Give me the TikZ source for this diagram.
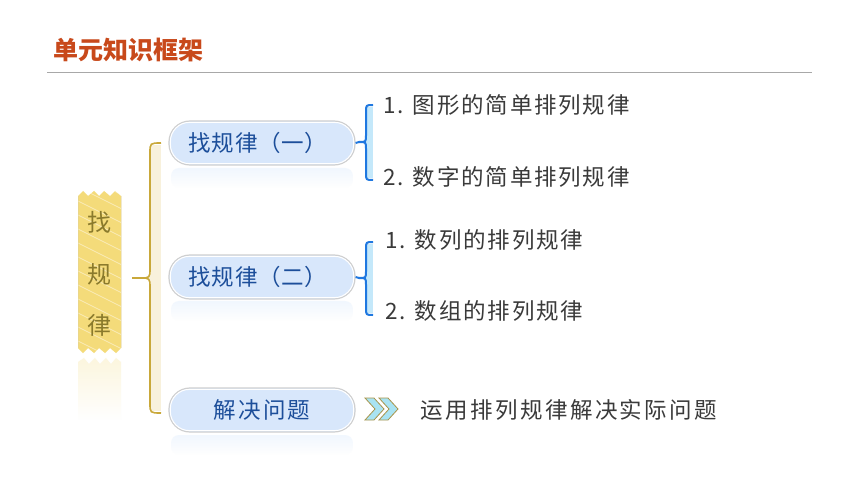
\documentclass[tikz,border=0pt]{standalone}
\usepackage{fontspec}
\newfontfamily\cjk{Noto Sans CJK SC}
\usetikzlibrary{fadings}
\definecolor{titlec}{HTML}{C8491B}
\definecolor{rulec}{HTML}{A8A8A8}
\definecolor{goldc}{HTML}{C9A83A}
\definecolor{creamc}{HTML}{F8F1DC}
\definecolor{bannerc}{HTML}{F4DB7A}
\definecolor{bannertxt}{HTML}{8A7A2C}
\definecolor{pillc}{HTML}{D8E7FB}
\definecolor{pillline}{HTML}{CFCFCF}
\definecolor{pilltxt}{HTML}{1C4E9A}
\definecolor{bluec}{HTML}{1F78E0}
\definecolor{cyanc}{HTML}{C4E8FA}
\definecolor{graytxt}{HTML}{3A3A3A}
\definecolor{chevc}{HTML}{A9E3F2}
\definecolor{chevline}{HTML}{A8944A}
\tikzset{
  pill/.style={draw=pillline, line width=1.2pt, fill=pillc, rounded corners=21pt,
    minimum width=186pt, minimum height=44pt, inner sep=0pt, text=pilltxt,
    font=\cjk\fontsize{22.5}{22.5}\selectfont},
  pillin/.style={draw=white, line width=1pt, rounded corners=19pt},
  refl/.style={fill=pillc!35, path fading=south, rounded corners=8pt},
  item/.style={anchor=west, inner sep=0pt, text=graytxt,
    font=\cjk\fontsize{22.5}{22.5}\selectfont\addfontfeature{LetterSpace=8}},
  goldline/.style={draw=goldc, line width=1.6pt},
  blueline/.style={draw=bluec, line width=2pt},
  chev/.style={fill=chevc, draw=chevline, line width=0.8pt, line join=miter}
}
\begin{document}
\begin{tikzpicture}[x=1pt,y=-1pt]
\useasboundingbox (0,0) rectangle (860,484);
\fill[white] (0,0) rectangle (860,484);

% title
\node[anchor=west, inner sep=0pt, text=titlec, font=\cjk\bfseries\fontsize{25}{25}\selectfont] (title) at (53,50) {单元知识框架};
\coordinate (rl) at (47,72);
\coordinate (rr) at (812,72);
\draw[rulec, line width=0.9pt] (rl) -- (rr);

% banner
\fill[bannerc!25, path fading=south]
  (78,362) -- (84,358) -- (89,364) -- (95,358) -- (100,364) -- (106,358) -- (111,364) -- (116,358) -- (121,362)
  -- (121,420) -- (78,420) -- cycle;
\begin{scope}
\clip (78,196) -- (83,191) -- (88,196) -- (94,191) -- (99,196) -- (104,191) -- (110,196) -- (115,191) -- (121,196)
  -- (121,348) -- (116,353) -- (110,348) -- (105,353) -- (99,348) -- (94,353) -- (88,348) -- (83,353) -- (78,348) -- cycle;
\fill[bannerc] (70,185) rectangle (130,360);
\foreach \k in {0,...,16} {
  \draw[white, opacity=0.45, line width=0.8pt] (60,150+\k*14) -- (140,190+\k*14);
}
\end{scope}
\draw[bannerc!80!black!60, line width=0.5pt, opacity=0.4] (78,196) -- (78,348) (121,196) -- (121,348);
\node[inner sep=0pt, text=bannertxt, align=center, font=\cjk\fontsize{24}{51.5}\selectfont] (banner) at (99.5,274) {找\\规\\律};

% gold brace
\fill[creamc] (150,145) rectangle (161,411);
\coordinate (gt) at (161,143);
\coordinate (gb) at (161,413);
\coordinate (gtip) at (132,278);
\draw[goldline] (gt) .. controls (150,143) .. (150,153) -- (150,268) .. controls (150,278) .. (140,278) -- (gtip);
\draw[goldline] (140,278) .. controls (150,278) .. (150,288) -- (150,403) .. controls (150,413) .. (gb);

% pills with reflections
\fill[refl] (171,168) rectangle (353,188);
\fill[refl] (171,301) rectangle (353,321);
\fill[refl] (171,435) rectangle (353,455);
\node[pill] (p1) at (262,143) {\hspace*{-8pt}\addfontfeature{LetterSpace=3}找规律（一）};
\node[pill] (p2) at (262,277) {\hspace*{-8pt}\addfontfeature{LetterSpace=3}找规律（二）};
\node[pill] (p3) at (262,410) {\addfontfeature{LetterSpace=10}解决问题};
\foreach \n in {p1,p2,p3} {
  \draw[pillin] ([shift={(2pt,-2pt)}]\n.north west) rectangle ([shift={(-2pt,2pt)}]\n.south east);
}

% blue brace 1
\fill[cyanc] (366,107) rectangle (373,178);
\draw[blueline] (373,105) .. controls (366,105) .. (366,112) -- (366,135) .. controls (366,142) .. (359,142) -- (p1.east);
\draw[blueline] (359,142) .. controls (366,142) .. (366,149) -- (366,173) .. controls (366,180) .. (373,180);
% blue brace 2
\fill[cyanc] (366,244) rectangle (373,313);
\draw[blueline] (373,242) .. controls (366,242) .. (366,249) -- (366,271) .. controls (366,278) .. (359,278) -- (p2.east);
\draw[blueline] (359,278) .. controls (366,278) .. (366,285) -- (366,308) .. controls (366,315) .. (373,315);

% items
\node[item] (a1) at (383,105) {1. 图形的简单排列规律};
\node[item] (a2) at (383,177) {2. 数字的简单排列规律};
\node[item] (b1) at (385,240) {1. 数列的排列规律};
\node[item] (b2) at (385,311) {2. 数组的排列规律};

% chevrons
\draw[chev] (365,398) -- (374,398) -- (384,409) -- (374,420) -- (365,420) -- (375,409) -- cycle;
\draw[chev] (379,398) -- (388,398) -- (398,409) -- (388,420) -- (379,420) -- (389,409) -- cycle;
\coordinate (chv) at (398,409);
\node[item, font=\cjk\fontsize{22.5}{22.5}\selectfont\addfontfeature{LetterSpace=11}] (c1) at (420,410) {运用排列规律解决实际问题};
\end{tikzpicture}
\end{document}
